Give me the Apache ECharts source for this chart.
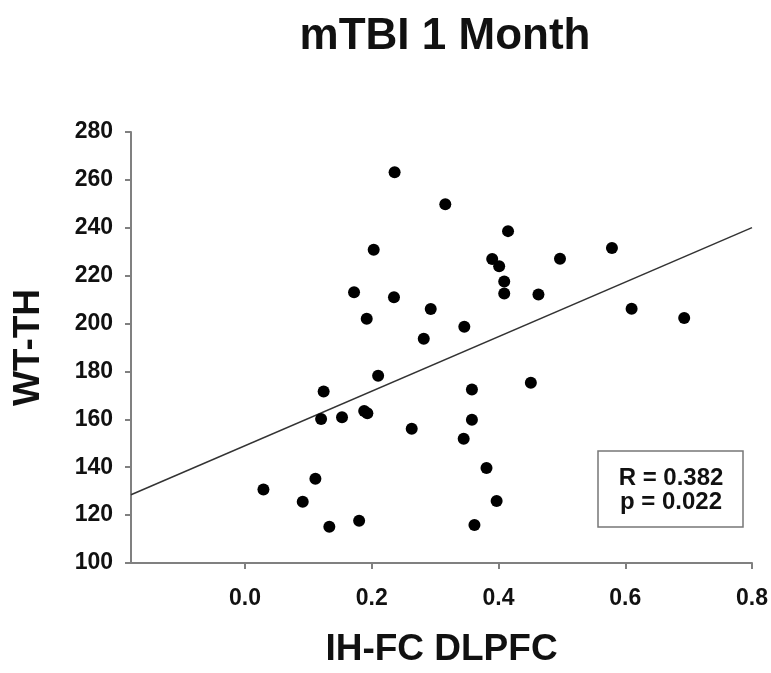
<!DOCTYPE html>
<html>
<head>
<meta charset="utf-8">
<script src="https://cdn.jsdelivr.net/npm/echarts@6/dist/echarts.min.js"></script>
<style>
  html, body { margin: 0; padding: 0; background: #fff; }
  #chart { width: 771px; height: 673px; }
</style>
</head>
<body>
<div id="chart"></div>
<script>
// IH-FC DLPFC values (x) and WT-TH values (y)
var fcValues = [0.236, 0.316, 0.203, 0.415, 0.390, 0.401, 0.409, 0.409, 0.463, 0.497,
                0.579, 0.610, 0.693, 0.172, 0.235, 0.293, 0.192, 0.346, 0.282, 0.210,
                0.124, 0.120, 0.153, 0.188, 0.193, 0.263, 0.358, 0.358, 0.345, 0.381,
                0.397, 0.362, 0.029, 0.111, 0.091, 0.133, 0.180, 0.451];
var thValues = [263.2, 249.8, 230.8, 238.6, 227.0, 223.9, 217.6, 212.6, 212.1, 227.1,
                231.6, 206.2, 202.3, 213.1, 211.0, 206.1, 202.0, 198.7, 193.7, 178.2,
                171.6, 160.1, 160.9, 163.5, 162.5, 156.1, 172.5, 159.8, 151.9, 139.7,
                125.9, 115.9, 130.7, 135.2, 125.6, 115.1, 117.6, 175.3];

// regression line
var fitIntercept = 149.0;
var fitSlope = 113.8;

var xRange = [-0.18, 0.8];
var xTicks = [0.0, 0.2, 0.4, 0.6, 0.8];
var yRange = [100, 280];
var statLines = ['R = 0.382', 'p = 0.022'];

var points = fcValues.map(function (x, i) { return [x, thValues[i]]; });
var fitLine = xRange.map(function (x) { return [x, fitIntercept + fitSlope * x]; });

var font = '"Liberation Sans", Arial, sans-serif';
var axisColor = '#808080';

var chart = echarts.init(document.getElementById('chart'));
chart.setOption({
    animation: false,
    backgroundColor: '#fff',
    title: {
        text: 'mTBI 1 Month',
        left: 440,
        textAlign: 'center',
        top: 10,
        textStyle: { fontFamily: font, fontWeight: 'bold', fontSize: 44, color: '#111' }
    },
    grid: { left: 131, right: 19, top: 132, bottom: 107 },
    xAxis: {
        type: 'value',
        min: xRange[0],
        max: xRange[1],
        name: 'IH-FC DLPFC',
        nameLocation: 'middle',
        nameGap: 68,
        nameTextStyle: { fontFamily: font, fontWeight: 'bold', fontSize: 37, color: '#111' },
        splitLine: { show: false },
        axisLine: { lineStyle: { color: axisColor, width: 2 } },
        axisTick: { customValues: xTicks, length: 6, lineStyle: { color: axisColor, width: 2 } },
        axisLabel: {
            customValues: xTicks,
            margin: 24,
            fontFamily: font, fontWeight: 'bold', fontSize: 23, color: '#111',
            formatter: function (v) { return v.toFixed(1); }
        }
    },
    yAxis: {
        type: 'value',
        min: yRange[0],
        max: yRange[1],
        interval: 20,
        name: 'WT-TH',
        nameLocation: 'middle',
        nameGap: 84,
        nameTextStyle: { fontFamily: font, fontWeight: 'bold', fontSize: 37, color: '#111' },
        splitLine: { show: false },
        axisLine: { show: true, onZero: false, lineStyle: { color: axisColor, width: 2 } },
        axisTick: { show: true, length: 6, lineStyle: { color: axisColor, width: 2 } },
        axisLabel: { margin: 18, fontFamily: font, fontWeight: 'bold', fontSize: 23, color: '#111' }
    },
    graphic: [
        {
            type: 'rect',
            shape: { x: 598, y: 451, width: 145, height: 76 },
            style: { fill: '#fff', stroke: '#777', lineWidth: 1.5 },
            z: 10
        },
        {
            type: 'text',
            x: 671, y: 466,
            style: { text: statLines[0], fontFamily: font, fontWeight: 'bold', fontSize: 24, fill: '#111', textAlign: 'center' },
            z: 11
        },
        {
            type: 'text',
            x: 671, y: 490,
            style: { text: statLines[1], fontFamily: font, fontWeight: 'bold', fontSize: 24, fill: '#111', textAlign: 'center' },
            z: 11
        }
    ],
    series: [
        {
            type: 'line',
            data: fitLine,
            symbol: 'none',
            silent: true,
            lineStyle: { color: '#333', width: 1.5 },
            z: 2
        },
        {
            type: 'scatter',
            data: points,
            symbol: 'circle',
            symbolSize: 12,
            itemStyle: { color: '#000', opacity: 1 },
            z: 3
        }
    ]
});
</script>
</body>
</html>
